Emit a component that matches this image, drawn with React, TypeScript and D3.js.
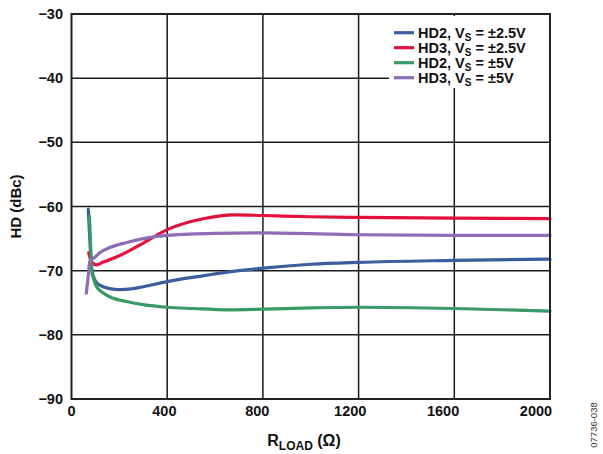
import React from "react";
import * as d3 from "d3";

const xTicks = [0, 400, 800, 1200, 1600, 2000];
const yTicks = [-30, -40, -50, -60, -70, -80, -90];

const hd2_25_x = [70, 75, 80, 86, 100, 120, 160, 200, 250, 300, 400, 550, 700, 800, 1000, 1200, 1600, 2000];
const hd2_25_y = [-60.4, -64, -67.5, -70, -71.6, -72.3, -72.8, -72.95, -72.85, -72.5, -71.7, -70.8, -70.0, -69.6, -69.0, -68.7, -68.4, -68.2];

const hd3_25_x = [72, 82, 95, 105, 130, 180, 231, 300, 400, 550, 680, 800, 1000, 1200, 1600, 2000];
const hd3_25_y = [-67.2, -68.5, -69.0, -69.1, -68.7, -68.0, -67.1, -65.7, -63.6, -61.9, -61.3, -61.4, -61.6, -61.7, -61.8, -61.9];

const hd2_5_x = [75, 80, 84, 95, 105, 130, 161, 230, 300, 400, 509, 650, 800, 1000, 1200, 1600, 2000];
const hd2_5_y = [-61.5, -66, -69.9, -71.6, -72.5, -73.4, -74.1, -74.8, -75.3, -75.7, -75.9, -76.1, -76.0, -75.8, -75.7, -75.9, -76.3];

const hd3_5_x = [62, 68, 77, 98, 118, 160, 231, 300, 400, 600, 800, 1200, 1600, 2000];
const hd3_5_y = [-73.5, -71.5, -68.5, -67.9, -67.2, -66.4, -65.6, -65.0, -64.5, -64.2, -64.1, -64.4, -64.5, -64.5];

const seriesNames = ["HD2, V|S| = ±2.5V", "HD3, V|S| = ±2.5V", "HD2, V|S| = ±5V", "HD3, V|S| = ±5V"];
const seriesColors = ["#3b5f9d", "#e2103c", "#3a9a66", "#8e6db6"];
const seriesX = [hd2_25_x, hd3_25_x, hd2_5_x, hd3_5_x];
const seriesY = [hd2_25_y, hd3_25_y, hd2_5_y, hd3_5_y];

const W = 603, H = 454;
const L = 71.5, R = 550, T = 14, B = 399;
const FONT = "'Liberation Sans', Arial, sans-serif";

export default function App() {
  const x = d3.scaleLinear().domain([0, 2000]).range([L, R]);
  const y = d3.scaleLinear().domain([-90, -30]).range([B, T]);
  const line = d3
    .line<[number, number]>()
    .x((d) => x(d[0]))
    .y((d) => y(d[1]))
    .curve(d3.curveMonotoneX);

  const legX = 394;
  const legRows = [32.7, 47.7, 62.7, 77.7];

  return (
    <svg width={W} height={H} style={{ position: "absolute", left: 0, top: 0, background: "#fff" }} fontFamily={FONT}>
      {yTicks.slice(1, -1).map((t) => (
        <line key={"gy" + t} x1={L} x2={R} y1={y(t)} y2={y(t)} stroke="#1a1a1a" strokeWidth={1.5} />
      ))}
      {xTicks.slice(1, -1).map((t) => (
        <line key={"gx" + t} x1={x(t)} x2={x(t)} y1={T} y2={B} stroke="#1a1a1a" strokeWidth={1.5} />
      ))}
      <rect x={389} y={16} width={160} height={72} fill="#fff" />
      {seriesX.map((xs, i) => (
        <path
          key={"s" + i}
          d={line(xs.map((v, j) => [v, seriesY[i][j]] as [number, number])) || ""}
          fill="none"
          stroke={seriesColors[i]}
          strokeWidth={3.2}
          strokeLinejoin="round"
          strokeLinecap="round"
        />
      ))}
      <rect x={L} y={T} width={R - L} height={B - T} fill="none" stroke="#222" strokeWidth={2} />
      {seriesNames.map((n, i) => {
        const parts = n.split("|");
        return (
          <g key={"l" + i}>
            <line x1={legX} x2={legX + 20} y1={legRows[i]} y2={legRows[i]} stroke={seriesColors[i]} strokeWidth={3.2} />
            <text x={legX + 24} y={legRows[i] + 5} fontSize={14.5} fontWeight="bold" fill="#111">
              {parts[0]}
              <tspan fontSize={10} dy={3}>{parts[1]}</tspan>
              <tspan dy={-3}>{parts[2]}</tspan>
            </text>
          </g>
        );
      })}
      {yTicks.map((t) => (
        <text key={"yt" + t} x={63} y={y(t) + 5} fontSize={14.5} fontWeight="bold" textAnchor="end" fill="#111">
          {"−" + Math.abs(t)}
        </text>
      ))}
      {xTicks.map((t) => (
        <text key={"xt" + t} x={x(t) - t * 0.007} y={416} fontSize={14.5} fontWeight="bold" textAnchor="middle" fill="#111">
          {t}
        </text>
      ))}
      <text x={304} y={446} fontSize={16} fontWeight="bold" textAnchor="middle" fill="#111">
        R<tspan fontSize={12} dy={4}>LOAD</tspan>
        <tspan dy={-4}> (Ω)</tspan>
      </text>
      <text
        transform={`translate(21,${(T + B) / 2}) rotate(-90)`}
        fontSize={15}
        fontWeight="bold"
        textAnchor="middle"
        fill="#111"
      >
        HD (dBc)
      </text>
      <text transform={`translate(597,425) rotate(-90)`} fontSize={9.5} textAnchor="middle" fill="#333">
        07736-038
      </text>
    </svg>
  );
}
